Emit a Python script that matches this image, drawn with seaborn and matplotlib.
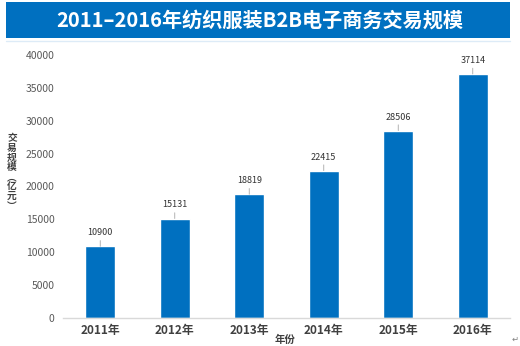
import matplotlib
matplotlib.use("Agg")
import matplotlib.pyplot as plt
import seaborn as sns
import pandas as pd
from matplotlib.patches import Rectangle

years = ["2011年", "2012年", "2013年", "2014年", "2015年", "2016年"]
values = [10900, 15131, 18819, 22415, 28506, 37114]
yticks = [0, 5000, 10000, 15000, 20000, 25000, 30000, 35000, 40000]
title = "2011–2016年纺织服装B2B电子商务交易规模"
ylabel = "交易规模︵亿元︶"
xlabel = "年份"

sns.set_theme(style="white")
plt.rcParams["font.family"] = ["Noto Sans CJK SC", "DejaVu Sans"]

df = pd.DataFrame({"year": years, "value": values})

fig = plt.figure(figsize=(5.2, 3.46), dpi=100)
fig.patch.set_facecolor("white")

# title band
fig.patches.append(Rectangle((6 / 520, 1 - 38 / 346), 504 / 520, 36 / 346,
                             transform=fig.transFigure, facecolor="#0070C0",
                             edgecolor="none"))
fig.text(0.5, 1 - 20 / 346, title, ha="center", va="center", color="white",
         fontsize=14.5, fontweight="bold")
fig.lines.append(plt.Line2D([6 / 520, 510 / 520], [1 - 41 / 346] * 2,
                            transform=fig.transFigure, color="#DDEBF7", lw=1))

ax = fig.add_axes([63 / 520, 1 - 318 / 346, 447 / 520, 263 / 346])
sns.barplot(data=df, x="year", y="value", color="#0070C0", saturation=1,
            width=0.4, ax=ax)

ax.set_ylim(0, 40000)
ax.set_yticks(yticks)
ax.set_yticklabels([str(v) for v in yticks], fontsize=7.5, color="#595959")
ax.tick_params(axis="x", labelsize=8.5, labelcolor="#404040", length=0, pad=4)
ax.tick_params(axis="y", length=0, pad=6)
for lbl in ax.get_xticklabels():
    lbl.set_fontweight("bold")
ax.set_xlabel("")
ax.set_ylabel("")
for side in ["top", "right", "left"]:
    ax.spines[side].set_visible(False)
ax.spines["bottom"].set_color("#D9D9D9")
ax.spines["bottom"].set_linewidth(1)

# value labels with short leader ticks
for i, v in enumerate(values):
    ax.annotate(str(v), xy=(i, v), xytext=(0, 6.5), textcoords="offset points",
                ha="center", va="bottom", fontsize=6.5, color="#333333",
                annotation_clip=False,
                arrowprops=dict(arrowstyle="-", color="#A6A6A6", lw=0.6,
                                shrinkA=0, shrinkB=0))

fig.text(12 / 520, 1 - 172 / 346, "\n".join(ylabel), ha="center", va="center",
         fontsize=7, fontweight="bold", color="#404040", linespacing=0.95)
fig.text(285 / 520, 1 - 340 / 346, xlabel, ha="center", va="center",
         fontsize=7.5, fontweight="bold", color="#404040")
fig.text(515 / 520, 1 - 339 / 346, "↵", ha="center", va="center",
         fontsize=6, color="#808080", family=["DejaVu Sans"])

fig.savefig("out.png", dpi=100)
